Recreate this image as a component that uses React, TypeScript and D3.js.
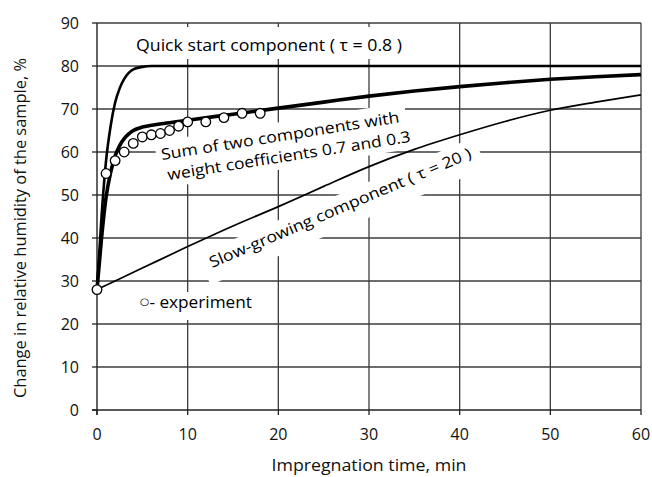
import React from "react";
import * as d3 from "d3";

const timeFine = [0, 0.5, 1, 1.5, 2, 2.5, 3, 3.5, 4, 5, 6, 8, 10, 15, 20, 25, 30, 35, 40, 45, 50, 55, 60];
const quickValues = [28, 45, 58, 66, 71.5, 74.8, 77, 78.4, 79.2, 79.8, 80, 80, 80, 80, 80, 80, 80, 80, 80, 80, 80, 80, 80];
const sumValues = [28, 40, 49.5, 55.2, 59.1, 61.5, 63.1, 64.2, 65, 65.8, 66.2, 66.8, 67.4, 68.8, 70.2, 71.6, 73, 74.2, 75.2, 76.1, 76.9, 77.5, 78];
const timeSlow = [0, 5, 10, 15, 20, 25, 30, 35, 40, 45, 50, 55, 60];
const slowValues = [28, 33, 38, 42.8, 47.3, 52, 56.6, 60.6, 64, 67.1, 69.7, 71.6, 73.3];
const expTime = [0, 1, 2, 3, 4, 5, 6, 7, 8, 9, 10, 12, 14, 16, 18];
const expValues = [28, 55, 58, 60, 62, 63.5, 64, 64.3, 65, 66, 67, 67, 68, 69, 69];
const xTicks = [0, 10, 20, 30, 40, 50, 60];
const yTicks = [0, 10, 20, 30, 40, 50, 60, 70, 80, 90];

const W = 652, H = 477;
const L = 97, R = 641, T = 23, B = 410;
const FONT = "'Open Sans', 'DejaVu Sans', sans-serif";

export default function App() {
  const x = d3.scaleLinear().domain([0, 60]).range([L, R]);
  const y = d3.scaleLinear().domain([0, 90]).range([B, T]);
  const line = d3.line<[number, number]>().x(d => x(d[0])).y(d => y(d[1])).curve(d3.curveMonotoneX);
  const quickPath = line(timeFine.map((t, i) => [t, quickValues[i]]))!;
  const sumPath = line(timeFine.map((t, i) => [t, sumValues[i]]))!;
  const slowPath = line(timeSlow.map((t, i) => [t, slowValues[i]]))!;
  const grid = "#3c3c3c";

  return (
    <svg width={W} height={H} style={{ position: "absolute", left: 0, top: 0, display: "block", background: "#fff" }}
      fontFamily={FONT}>
      <rect x={0} y={0} width={W} height={H} fill="#fff" />
      {yTicks.filter(v => v > 0).map(v => (
        <line key={"gy" + v} x1={L} x2={R} y1={y(v)} y2={y(v)} stroke={grid} strokeWidth={1.3} />
      ))}
      {xTicks.filter(v => v > 0).map(v => (
        <line key={"gx" + v} x1={x(v)} x2={x(v)} y1={T} y2={B} stroke={grid} strokeWidth={1.3} />
      ))}
      <line x1={L} x2={L} y1={T} y2={B + 5} stroke="#222" strokeWidth={1.4} />
      <line x1={L - 5} x2={R} y1={B} y2={B} stroke="#222" strokeWidth={1.4} />
      {yTicks.map(v => (
        <line key={"ty" + v} x1={L - 5} x2={L} y1={y(v)} y2={y(v)} stroke="#222" strokeWidth={1.3} />
      ))}
      {xTicks.map(v => (
        <line key={"tx" + v} x1={x(v)} x2={x(v)} y1={B} y2={B + 5} stroke="#222" strokeWidth={1.3} />
      ))}
      {yTicks.map(v => (
        <text key={"ly" + v} x={79} y={y(v)} dy="0.36em" textAnchor="end" fontSize={16} fill="#111">{v}</text>
      ))}
      {xTicks.map(v => (
        <text key={"lx" + v} x={x(v)} y={440} textAnchor="middle" fontSize={16} fill="#111">{v}</text>
      ))}
      <text x={369} y={471} textAnchor="middle" fontSize={16} fill="#111"
        textLength={195} lengthAdjust="spacingAndGlyphs">Impregnation time, min</text>
      <text transform="translate(26,228) rotate(-90)" textAnchor="middle" fontSize={15.5} fill="#111"
        textLength={340} lengthAdjust="spacingAndGlyphs">Change in relative humidity of the sample, %</text>

      <rect x={128} y={27} width={282} height={32} fill="#fff" />
      <rect x={136} y={292} width={122} height={28} fill="#fff" />
      <g transform="translate(162,160) rotate(-9)">
        <rect x={-5} y={-19} width={253} height={47} fill="#fff" />
      </g>
      <g transform="translate(212,268) rotate(-23)">
        <rect x={-8} y={-18} width={300} height={33} fill="#fff" />
      </g>

      <path d={slowPath} fill="none" stroke="#000" strokeWidth={1.7} />
      <path d={quickPath} fill="none" stroke="#000" strokeWidth={2.6} />
      <path d={sumPath} fill="none" stroke="#000" strokeWidth={3.6} />
      {expTime.map((t, i) => (
        <circle key={"c" + i} cx={x(t)} cy={y(expValues[i])} r={4.8} fill="#fff" stroke="#000" strokeWidth={1.3} />
      ))}

      <text x={136} y={51} fontSize={15.5} fill="#000" textLength={266} lengthAdjust="spacingAndGlyphs">Quick start component ( τ = 0.8 )</text>
      <g transform="translate(162,160) rotate(-9)">
        <text x={0} y={0} fontSize={15.5} fill="#000" textLength={241} lengthAdjust="spacingAndGlyphs">Sum of two components with</text>
        <text x={3} y={21} fontSize={15.5} fill="#000" textLength={246} lengthAdjust="spacingAndGlyphs">weight coefficients 0.7 and 0.3</text>
      </g>
      <g transform="translate(212,268) rotate(-23)">
        <text x={0} y={0} fontSize={15.5} fill="#000" textLength={283} lengthAdjust="spacingAndGlyphs">Slow-growing component ( τ = 20 )</text>
      </g>
      <text x={140} y={308} fontSize={16} fill="#000" textLength={112} lengthAdjust="spacingAndGlyphs">
        <tspan fontSize={10} dy={-3}>○</tspan>
        <tspan dy={3}>- experiment</tspan>
      </text>
    </svg>
  );
}
